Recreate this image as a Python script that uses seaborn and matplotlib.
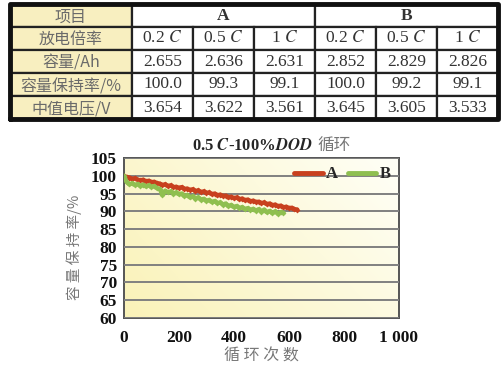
import matplotlib
matplotlib.use("Agg")
import matplotlib.pyplot as plt
import numpy as np
import pandas as pd
import seaborn as sns

# table data
row_labels = ["项目", "放电倍率", "容量/Ah", "容量保持率/%", "中值电压/V"]
groups = ["A", "B"]
rates = ["0.2 $C$", "0.5 $C$", "1 $C$"]
capacity = ["2.655", "2.636", "2.631", "2.852", "2.829", "2.826"]
retention = ["100.0", "99.3", "99.1", "100.0", "99.2", "99.1"]
mid_voltage = ["3.654", "3.622", "3.561", "3.645", "3.605", "3.533"]

# cycle data
cycles_a = list(range(0, 640, 10))
ret_a = [100.0, 99.6, 99.5, 99.1, 99.3, 98.9, 98.7, 98.9, 98.4, 98.6,
         98.2, 98.3, 97.9, 97.8, 97.4, 97.6, 97.1, 97.3, 96.8, 96.9,
         96.6, 96.8, 96.3, 96.4, 96.0, 96.2, 95.7, 95.9, 95.4, 95.6,
         95.2, 95.3, 94.8, 95.0, 94.5, 94.7, 94.3, 94.4, 93.9, 94.1,
         93.7, 93.9, 93.4, 93.6, 93.1, 93.3, 92.8, 93.0, 92.6, 92.7,
         92.3, 92.5, 92.0, 92.2, 91.7, 91.9, 91.4, 91.6, 91.1, 91.3,
         90.9, 91.0, 90.6, 90.5]
cycles_b = list(range(0, 590, 10))
ret_b = [100.0, 98.2, 97.6, 97.9, 97.4, 97.7, 97.2, 97.5, 97.0, 97.3,
         96.9, 97.1, 96.5, 96.3, 94.6, 95.8, 95.3, 95.6, 95.0, 95.3,
         94.8, 95.0, 94.3, 94.6, 93.9, 94.2, 93.6, 93.9, 93.3, 93.5,
         93.0, 93.2, 92.6, 92.9, 92.3, 92.5, 91.9, 92.2, 91.5, 91.8,
         91.2, 91.5, 90.9, 91.2, 90.6, 90.9, 90.4, 90.7, 90.2, 90.6,
         89.9, 90.5, 89.7, 90.1, 89.5, 90.0, 89.3, 89.8, 89.6]
x_ticks = [0, 200, 400, 600, 800, 1000]
x_tick_labels = ["0", "200", "400", "600", "800", "1 000"]
y_ticks = list(range(60, 106, 5))

sns.set_style("white")
plt.rcParams["font.family"] = ["Liberation Serif", "Noto Sans CJK SC"]
plt.rcParams["mathtext.fontset"] = "stix"
cjk = ["Noto Sans CJK SC", "DejaVu Sans"]

W, H = 502, 368
fig = plt.figure(figsize=(W / 100, H / 100), dpi=100)

# ---- table ----
tab_ax = fig.add_axes([10 / W, 1 - 119 / H, 488 / W, 115 / H])
tab_ax.axis("off")
cells = [["项目", "", "A", "", "", "B", ""],
         ["放电倍率"] + rates + rates,
         ["容量/Ah"] + capacity,
         ["容量保持率/%"] + retention,
         ["中值电压/V"] + mid_voltage]
col_w = [122] + [61] * 6
tbl = tab_ax.table(cellText=cells, bbox=[0, 0, 1, 1],
                   colWidths=[c / sum(col_w) for c in col_w], cellLoc="center")
tbl.auto_set_font_size(False)
for (r, c), cell in tbl.get_celld().items():
    cell.set_edgecolor("#222222")
    cell.set_linewidth(1.6)
    txt = cell.get_text()
    if c == 0:
        cell.set_facecolor("#f8efc0")
        txt.set_family(cjk)
        txt.set_fontsize(11.5)
        txt.set_color("#6a6a6a")
        txt.set_va("center_baseline")
    else:
        cell.set_facecolor("white")
        txt.set_fontsize(12.5)
        txt.set_color("#333333")
    if r == 0 and c > 0:
        txt.set_fontweight("bold")
        if c in (1, 4):
            cell.visible_edges = "BTL"
        elif c in (3, 6):
            cell.visible_edges = "BTR"
        else:
            cell.visible_edges = "BT"
tab_ax.plot([0, 0, 1, 1, 0], [0, 1, 1, 0, 0], transform=tab_ax.transAxes,
            color="#111111", lw=3.5, clip_on=False, zorder=5)

# ---- chart ----
ax = fig.add_axes([124 / W, 1 - 318 / H, 275 / W, 160 / H])
gx, gy = np.meshgrid(np.linspace(0, 1, 200), np.linspace(0, 1, 200))
t = np.clip(0.65 * gx + 0.35 * (1 - gy), 0, 1)
c0 = np.array([0.98, 0.95, 0.72])
c1 = np.array([1.0, 1.0, 0.97])
grad = c0[None, None, :] * (1 - t[..., None]) + c1[None, None, :] * t[..., None]
ax.imshow(grad, extent=[0, 1, 0, 1], transform=ax.transAxes, aspect="auto",
          zorder=0, origin="upper")

df = pd.concat([
    pd.DataFrame({"cycle": cycles_a, "ret": ret_a, "cell": "A"}),
    pd.DataFrame({"cycle": cycles_b, "ret": ret_b, "cell": "B"}),
])
sns.lineplot(data=df, x="cycle", y="ret", hue="cell", ax=ax,
             palette={"A": "#c8401e", "B": "#8fbf50"}, lw=3.2,
             marker="D", markersize=3, markeredgewidth=0, zorder=3)

ax.set_xlim(0, 1000)
ax.set_ylim(60, 105)
ax.set_xticks(x_ticks)
ax.set_xticklabels(x_tick_labels)
ax.set_yticks(y_ticks)
ax.yaxis.grid(True, color="#808080", lw=1.4)
ax.set_axisbelow(False)
for lab in ax.get_xticklabels() + ax.get_yticklabels():
    lab.set_fontweight("bold")
    lab.set_fontsize(12.5)
    lab.set_color("#111111")
ax.tick_params(axis="both", direction="out", length=3, width=1.2,
               color="#666666", pad=2)
ax.tick_params(axis="x", pad=6)
for s in ax.spines.values():
    s.set_color("#555555")
    s.set_linewidth(1.4)

ax.set_xlabel("循 环 次 数", family=cjk, fontsize=11.5, color="#777777", labelpad=1)
ax.set_ylabel("容 量 保 持 率/%", family=cjk, fontsize=10.5, color="#777777")
ax.yaxis.set_label_coords(-0.153, 0.44)

leg = ax.legend(loc="upper right", ncol=2, frameon=False, handlelength=1.7,
                handletextpad=0.2, columnspacing=0.6, borderaxespad=0.1,
                prop={"weight": "bold", "size": 12})
for h in leg.get_lines():
    h.set_linewidth(3.5)
    h.set_marker("")

fig.text(313 / W, 1 - 146 / H, r"0.5 $\mathbfit{C}$-100%$\mathbfit{DOD}$",
         ha="right", va="center", fontsize=12, fontweight="bold")
fig.text(317 / W, 1 - 146 / H, "循环", ha="left", va="center",
         family=cjk, fontsize=12, color="#777777")

fig.savefig("out.png", dpi=100)
